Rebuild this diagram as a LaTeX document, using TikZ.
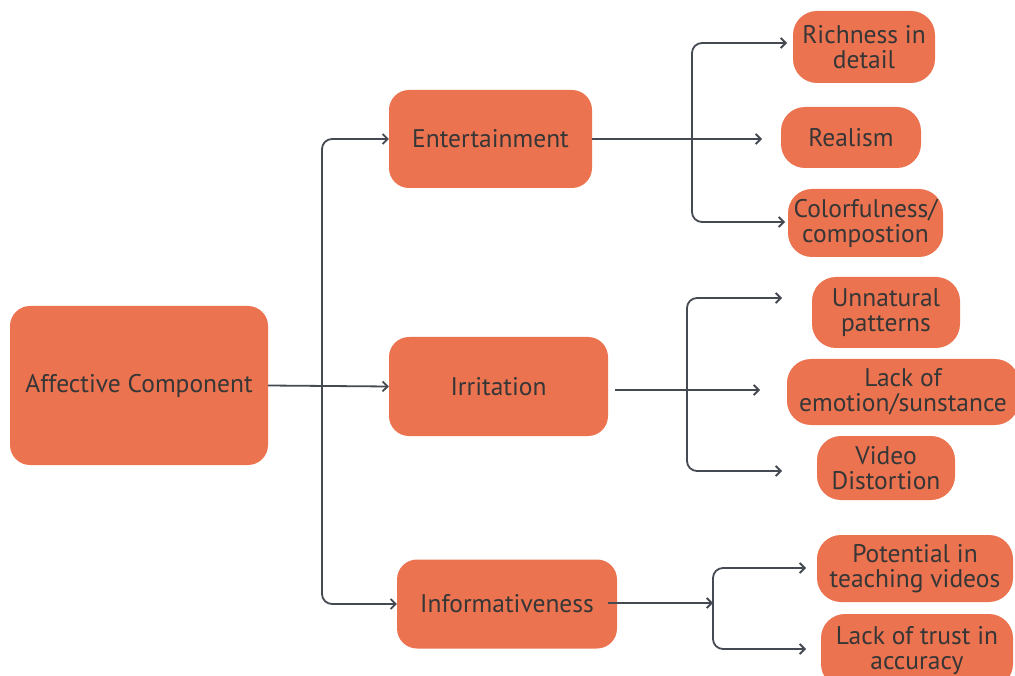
\documentclass[tikz,border=0pt]{standalone}
\usepackage{fontspec}
\setmainfont{PT Sans}
\usetikzlibrary{arrows.meta}
\definecolor{boxfill}{HTML}{EB7350}
\definecolor{ink}{HTML}{363636}
\definecolor{wire}{HTML}{454A52}
\tikzset{
  box/.style={fill=boxfill, draw=none, rounded corners=20pt, text=ink,
    align=center, inner sep=0pt, font=\fontsize{25.5}{25}\selectfont},
  pill/.style={box, rounded corners=24pt},
  arr/.style={draw=wire, line width=1.8pt, -{Straight Barb[length=5pt,width=10pt,line width=1.8pt]}},
}
\begin{document}
\begin{tikzpicture}[x=1pt,y=-1pt]
\useasboundingbox (0,0) rectangle (1015,676);
% level 0 and level 1
\node[box, minimum width=258pt, minimum height=159pt] (aff) at (139,385.5) {Affective Component};
\node[box, minimum width=203pt, minimum height=98pt] (ent) at (490.5,139) {Entertainment};
\node[box, minimum width=219pt, minimum height=99pt] (irr) at (498.5,386.5) {Irritation};
\node[box, minimum width=220pt, minimum height=89pt] (inf) at (507,604) {Informativeness};
% level 2
\node[pill, minimum width=142pt, minimum height=72pt] (rich) at (864,47) {Richness in\\detail};
\node[pill, minimum width=140pt, minimum height=61pt] (real) at (851,137.5) {Realism};
\node[pill, minimum width=155pt, minimum height=68pt] (col) at (865.5,223) {Colorfulness/\\compostion};
\node[pill, minimum width=148pt, minimum height=71pt] (unn) at (886,312.5) {Unnatural\\patterns};
\node[pill, minimum width=232pt, minimum height=66pt] (lack) at (903,392) {Lack of\\emotion/sunstance};
\node[pill, minimum width=138pt, minimum height=64pt] (vid) at (886,468) {Video\\Distortion};
\node[pill, minimum width=196pt, minimum height=67pt] (pot) at (915,568.5) {Potential in\\teaching videos};
\node[pill, minimum width=192pt, minimum height=74pt] (trust) at (917,651) {Lack of trust in\\accuracy};

% branch points and arrow ends
\coordinate (t0) at (322,385.5);
\coordinate (j1) at (692,139);
\coordinate (j2) at (687,390);
\coordinate (j3) at (713,603);
\coordinate (s2) at (615,390);
\coordinate (s3) at (608,603);
\coordinate (e11) at (787,43);
\coordinate (e12) at (762,139);
\coordinate (e13) at (785,222);
\coordinate (e21) at (782,298);
\coordinate (e22) at (760,390);
\coordinate (e23) at (782,471);
\coordinate (e31) at (806,568);
\coordinate (e32) at (806,649);

% root to level 1
\draw[arr] (aff.east) -- (irr.west);
\draw[arr, rounded corners=10pt] (t0) |- (ent.west);
\draw[arr, rounded corners=10pt] (t0) |- (inf.west);

% entertainment branch
\draw[arr] (ent.east) -- (e12);
\draw[arr, rounded corners=10pt] (j1) |- (e11);
\draw[arr, rounded corners=10pt] (j1) |- (e13);

% irritation branch
\draw[arr] (s2) -- (e22);
\draw[arr, rounded corners=10pt] (j2) |- (e21);
\draw[arr, rounded corners=10pt] (j2) |- (e23);

% informativeness branch
\draw[arr] (s3) -- (j3);
\draw[arr, rounded corners=10pt] (j3) |- (e31);
\draw[arr, rounded corners=10pt] (j3) |- (e32);
\end{tikzpicture}
\end{document}
